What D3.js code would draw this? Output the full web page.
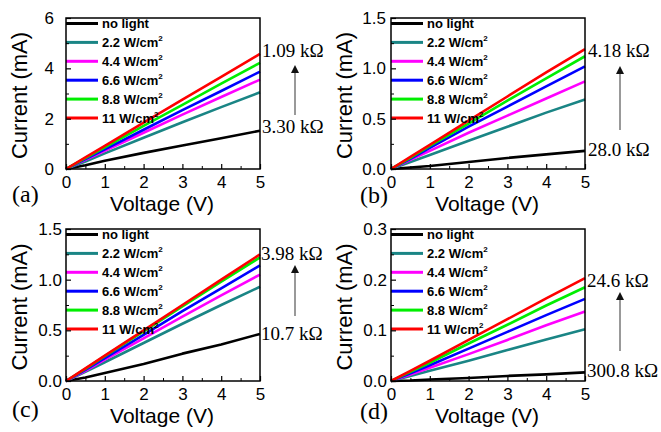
<!DOCTYPE html>
<html>
<head>
<meta charset="utf-8">
<script src="https://cdn.jsdelivr.net/npm/d3@7"></script>
<style>
  body { margin: 0; background: #fff; }
  svg { display: block; }
</style>
</head>
<body>
<svg id="chart" width="661" height="432"></svg>
<script>
// ---- data ----
const voltage = [0, 0.5, 1, 2, 3, 4, 5];
const seriesNames = ["no light", "2.2 W/cm", "4.4 W/cm", "6.6 W/cm", "8.8 W/cm", "11 W/cm"];
const seriesColors = ["#000000", "#1a8585", "#ff00ff", "#0000ff", "#00ee00", "#ff0000"];

const currentA = [
  [0, 0.15, 0.33, 0.64, 0.93, 1.22, 1.52],
  [0, 0.30, 0.62, 1.24, 1.86, 2.46, 3.05],
  [0, 0.36, 0.72, 1.44, 2.16, 2.86, 3.55],
  [0, 0.39, 0.78, 1.56, 2.34, 3.10, 3.87],
  [0, 0.43, 0.86, 1.71, 2.55, 3.39, 4.22],
  [0, 0.46, 0.92, 1.84, 2.76, 3.66, 4.57]
];
const currentB = [
  [0, 0.015, 0.03, 0.07, 0.11, 0.145, 0.18],
  [0, 0.07, 0.14, 0.28, 0.42, 0.56, 0.69],
  [0, 0.09, 0.18, 0.36, 0.53, 0.70, 0.87],
  [0, 0.10, 0.21, 0.42, 0.62, 0.82, 1.02],
  [0, 0.11, 0.23, 0.45, 0.68, 0.90, 1.12],
  [0, 0.12, 0.24, 0.48, 0.72, 0.96, 1.19]
];
const currentC = [
  [0, 0.035, 0.08, 0.167, 0.27, 0.36, 0.465],
  [0, 0.09, 0.185, 0.375, 0.565, 0.75, 0.93],
  [0, 0.10, 0.21, 0.42, 0.635, 0.845, 1.05],
  [0, 0.11, 0.225, 0.455, 0.69, 0.915, 1.14],
  [0, 0.12, 0.245, 0.49, 0.735, 0.98, 1.22],
  [0, 0.125, 0.25, 0.50, 0.75, 1.00, 1.25]
];
const currentD = [
  [0, 0.001, 0.003, 0.006, 0.010, 0.013, 0.017],
  [0, 0.010, 0.020, 0.040, 0.061, 0.082, 0.102],
  [0, 0.013, 0.026, 0.053, 0.081, 0.110, 0.137],
  [0, 0.015, 0.031, 0.064, 0.097, 0.130, 0.162],
  [0, 0.018, 0.036, 0.074, 0.111, 0.149, 0.185],
  [0, 0.020, 0.040, 0.081, 0.122, 0.163, 0.203]
];

const xTicks = [0, 1, 2, 3, 4, 5];
const yTicksA = [0, 2, 4, 6];
const yTicksB = [0, 0.5, 1.0, 1.5];
const yTicksD = [0, 0.1, 0.2, 0.3];
const panelLetters = ["(a)", "(b)", "(c)", "(d)"];
const resHigh = ["1.09 kΩ", "4.18 kΩ", "3.98 kΩ", "24.6 kΩ"];
const resLow = ["3.30 kΩ", "28.0 kΩ", "10.7 kΩ", "300.8 kΩ"];

// ---- layout ----
const SANS = "'Liberation Sans', Arial, sans-serif";
const SERIF = "'Liberation Serif', 'Times New Roman', serif";

const panels = [
  { left: 66, top: 18, h: 151, data: currentA, yTicks: yTicksA, fmt: d3.format("d"), yPad: 12,
    hiY: 51, loY: 127, arrow: [115, 62], labX: 262, letterX: 12, letterY: 202 },
  { left: 391, top: 18, h: 151, data: currentB, yTicks: yTicksB, fmt: d3.format(".1f"), yPad: 5,
    hiY: 51, loY: 150, arrow: [130, 63], labX: 588, letterX: 360, letterY: 203 },
  { left: 66, top: 229, h: 152, data: currentC, yTicks: yTicksB, fmt: d3.format(".1f"), yPad: 4,
    hiY: 254, loY: 334, arrow: [316, 262], labX: 261, letterX: 12, letterY: 417 },
  { left: 391, top: 229, h: 152, data: currentD, yTicks: yTicksD, fmt: d3.format(".1f"), yPad: 4,
    hiY: 281, loY: 371, arrow: [351, 289], labX: 587, letterX: 360, letterY: 419 }
];
const plotW = 194;

const svg = d3.select("#chart");
svg.append("defs").append("marker")
  .attr("id", "arrowhead")
  .attr("viewBox", "0 0 10 10")
  .attr("refX", 0).attr("refY", 5)
  .attr("markerWidth", 11).attr("markerHeight", 8)
  .attr("markerUnits", "userSpaceOnUse")
  .attr("orient", "auto")
  .append("path")
  .attr("d", "M0,0 L10,5 L0,10 Z")
  .attr("fill", "#111");

panels.forEach((p, pi) => {
  const yMax = p.yTicks[p.yTicks.length - 1];
  const x = d3.scaleLinear().domain([0, 5]).range([p.left, p.left + plotW]);
  const y = d3.scaleLinear().domain([0, yMax]).range([p.top + p.h, p.top]);
  const g = svg.append("g");

  // curves
  const line = d3.line().x((d, i) => x(voltage[i])).y(d => y(d));
  p.data.forEach((vals, si) => {
    g.append("path")
      .attr("d", line(vals))
      .attr("fill", "none")
      .attr("stroke", seriesColors[si])
      .attr("stroke-width", 2.6)
      .attr("stroke-linejoin", "round");
  });

  // legend
  seriesNames.forEach((name, si) => {
    const ly = p.top + 5.5 + si * 18.9;
    g.append("line")
      .attr("x1", p.left).attr("x2", p.left + 32)
      .attr("y1", ly).attr("y2", ly)
      .attr("stroke", seriesColors[si]).attr("stroke-width", 3);
    const t = g.append("text")
      .style("font-family", SANS).style("font-size", "13px").style("font-weight", "bold")
      .attr("x", p.left + 36).attr("y", ly + 4.5).text(name);
    if (si > 0) {
      t.append("tspan").style("font-size", "8px").attr("dy", -6).text("2");
    }
  });

  // axes (ticks inward)
  const xAxis = d3.axisBottom(x).tickValues(xTicks).tickSize(-5).tickPadding(7).tickFormat(d3.format("d"));
  const gx = g.append("g").attr("transform", `translate(0,${p.top + p.h})`).call(xAxis);
  gx.select(".domain").remove();
  gx.selectAll("text").style("font-family", SANS).style("font-size", "17px").attr("fill", "#000");
  gx.selectAll("line").attr("stroke", "#000").attr("stroke-width", 1.2);

  const xMinor = d3.axisBottom(x).tickValues(xTicks.slice(0, -1).map(v => v + 0.5)).tickSize(-3).tickFormat("");
  const gxm = g.append("g").attr("transform", `translate(0,${p.top + p.h})`).call(xMinor);
  gxm.select(".domain").remove();
  gxm.selectAll("line").attr("stroke", "#000").attr("stroke-width", 1);

  const yAxis = d3.axisLeft(y).tickValues(p.yTicks).tickSize(-5).tickPadding(p.yPad).tickFormat(p.fmt);
  const gy = g.append("g").attr("transform", `translate(${p.left},0)`).call(yAxis);
  gy.select(".domain").remove();
  gy.selectAll("text").style("font-family", SANS).style("font-size", "17px").attr("fill", "#000");
  gy.selectAll("line").attr("stroke", "#000").attr("stroke-width", 1.2);

  const step = p.yTicks[1] - p.yTicks[0];
  const yMinor = d3.axisLeft(y).tickValues(p.yTicks.slice(0, -1).map(v => v + step / 2)).tickSize(-3).tickFormat("");
  const gym = g.append("g").attr("transform", `translate(${p.left},0)`).call(yMinor);
  gym.select(".domain").remove();
  gym.selectAll("line").attr("stroke", "#000").attr("stroke-width", 1);

  // frame
  g.append("rect")
    .attr("x", p.left).attr("y", p.top)
    .attr("width", plotW).attr("height", p.h)
    .attr("fill", "none").attr("stroke", "#000").attr("stroke-width", 1.5);

  // axis titles
  g.append("text")
    .style("font-family", SANS).style("font-size", "22px")
    .attr("text-anchor", "middle")
    .attr("transform", `translate(${p.left - 39},${p.top + p.h / 2 + 2}) rotate(-90)`)
    .text("Current (mA)");
  g.append("text")
    .style("font-family", SANS).style("font-size", "21px")
    .attr("text-anchor", "middle")
    .attr("x", p.left + plotW / 2 - 1).attr("y", p.top + p.h + 42)
    .text("Voltage (V)");

  // panel letter
  g.append("text")
    .style("font-family", SERIF).style("font-size", "24px")
    .attr("x", p.letterX).attr("y", p.letterY)
    .text(panelLetters[pi]);

  // resistance annotations
  g.append("text").style("font-family", SERIF).style("font-size", "19px")
    .attr("x", p.labX).attr("y", p.hiY + 6).text(resHigh[pi]);
  g.append("text").style("font-family", SERIF).style("font-size", "19px")
    .attr("x", p.labX).attr("y", p.loY + 6).text(resLow[pi]);
  g.append("line")
    .attr("x1", p.left + plotW + 35).attr("x2", p.left + plotW + 35)
    .attr("y1", p.arrow[0]).attr("y2", p.arrow[1] + 11)
    .attr("stroke", "#555").attr("stroke-width", 1.2)
    .attr("marker-end", "url(#arrowhead)");
});
</script>
</body>
</html>
